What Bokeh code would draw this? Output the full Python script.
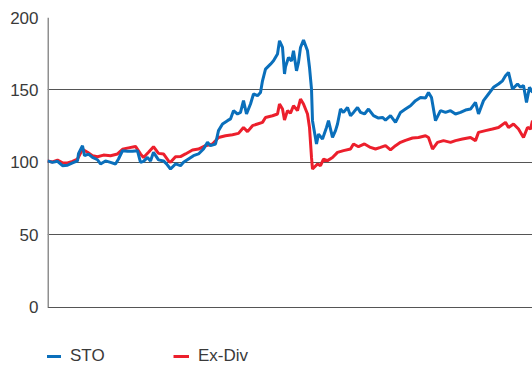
from bokeh.plotting import figure
from bokeh.models import Range1d, Legend, LegendItem, FixedTicker
from bokeh.embed import file_html
from bokeh.resources import INLINE

# trading-day index and indexed values (start = 100)
sto_t = [0, 5, 10, 15, 20, 25, 30, 31, 35, 37, 41, 45, 50, 53, 58, 63, 68, 71, 75, 80,
         85, 90, 93, 96, 100, 103, 106, 111, 116, 119, 123, 128, 133, 136, 141, 146, 151,
         156, 160, 163, 168, 171, 175, 180, 183, 186, 190, 193, 196, 199, 203, 206, 210,
         213, 215, 218, 223, 226, 230, 232, 235, 237, 238, 241, 244, 246, 249, 251, 253,
         256, 260, 262, 264, 265, 269, 271, 275, 279, 281, 285, 288, 290, 293, 296, 300,
         303, 306, 310, 313, 317, 321, 326, 331, 335, 338, 343, 348, 353, 358, 363, 368,
         373, 378, 381, 384, 388, 393, 398, 403, 408, 413, 418, 423, 428, 431, 436, 441,
         446, 451, 455, 458, 461, 465, 470, 473, 476, 479, 482, 485]
sto_v = [101, 100, 100.7, 97.7, 98, 99.6, 101, 106, 111.5, 104.6, 105.7, 103.4, 101.8,
         98.9, 101, 100, 98.9, 102.3, 108, 107.6, 107.6, 108, 100, 100.7, 103.4, 101,
         106.9, 101.7, 101, 99, 95.4, 98.9, 97.7, 100, 102.3, 104.6, 105.8, 109.2, 113.8,
         111.5, 112.7, 121.9, 126.5, 128.8, 130, 135.7, 133.4, 134.5, 142.6, 133.4, 140.3,
         147.2, 146, 148.3, 156.3, 164.4, 167.8, 170.1, 174.8, 183.9, 179.3, 161, 166,
         172.4, 170, 177, 163.2, 169, 179.3, 184.4, 177, 165.5, 150.6, 128.8, 112.7, 119.5,
         116.1, 124.1, 128.8, 117.2, 121.9, 126.5, 136.8, 134.5, 137.9, 132.2, 134.5, 137.9,
         134.5, 133.4, 136.8, 132.2, 130.6, 131, 129.2, 132.2, 127.6, 134.5, 136.8, 139.1,
         142.6, 144.8, 144.4, 148.3, 144.8, 128.8, 135.7, 134.5, 135.7, 133.4, 134.5, 136.1,
         136.8, 141.4, 133.4, 142.6, 147.2, 151.8, 154.1, 156.3, 159.8, 162.1, 150.6, 154.1,
         151.8, 153, 141.4, 151.8, 148.3, 159.8]

exdiv_t = [0, 5, 10, 15, 20, 25, 30, 35, 40, 45, 50, 56, 63, 70, 75, 81, 88, 93, 96, 101,
           106, 111, 116, 121, 123, 128, 133, 138, 145, 151, 158, 165, 171, 178, 185, 191,
           196, 200, 205, 210, 215, 218, 225, 230, 232, 235, 237, 240, 243, 246, 250, 253,
           256, 260, 262, 264, 265, 270, 273, 276, 280, 285, 290, 296, 303, 306, 311, 317,
           323, 328, 333, 338, 343, 348, 353, 358, 365, 371, 378, 381, 385, 390, 396, 403,
           408, 415, 423, 428, 431, 438, 445, 451, 458, 461, 466, 471, 476, 480, 483, 485]
exdiv_v = [101, 100.3, 101.5, 99.6, 99.6, 100.7, 102.3, 109, 107, 104.6, 103.9, 105, 104.6,
           105.8, 109, 110, 111, 105.8, 103.4, 107, 110.8, 106.2, 105.8, 101, 100, 103.9,
           104, 105.8, 108.5, 109.2, 111.5, 112.7, 117.2, 118.4, 119.1, 120, 124.1, 121.2,
           125.3, 126.5, 127.6, 131, 132.2, 133.4, 140.3, 136.8, 129.2, 135.7, 134, 139.1,
           135.7, 143.7, 140.3, 133.4, 124.1, 103.4, 95.4, 98.9, 97.7, 102.3, 101.2, 103.4,
           106.9, 108.1, 109.2, 112.7, 110.8, 112.7, 110.3, 109.2, 110.3, 111.5, 108.6, 111.5,
           113.8, 115.2, 116.8, 117.2, 118.4, 117.2, 109.2, 113.8, 115, 113.8, 115, 116.1,
           117.2, 115, 120.7, 121.9, 123, 124.1, 127.6, 124.1, 126.5, 123, 117.2, 124.1, 123,
           128.8]

y_ticks = [0, 50, 100, 150, 200]
series_names = ["STO", "Ex-Div"]

FONT = "Liberation Sans"
BLUE = "#0a6fbb"
RED = "#ec1f2c"

p = figure(frame_width=485, frame_height=352, output_backend="svg", toolbar_location=None,
           x_range=Range1d(0, 485), y_range=Range1d(-43, 200),
           min_border_left=47, min_border_right=0, min_border_top=17,
           min_border_bottom=0)
p.outline_line_color = None
p.background_fill_color = "white"
p.border_fill_color = "white"

p.xaxis.visible = False
p.xgrid.visible = False

p.yaxis.ticker = FixedTicker(ticks=y_ticks)
p.yaxis.axis_line_color = None
p.yaxis.major_tick_line_color = None
p.yaxis.minor_tick_line_color = None
p.yaxis.major_tick_out = 0
p.yaxis.major_tick_in = 0
p.yaxis.major_label_standoff = 9
p.yaxis.major_label_text_font = FONT
p.yaxis.major_label_text_font_size = "17px"
p.yaxis.major_label_text_color = "#3a3a3a"

p.ygrid.ticker = FixedTicker(ticks=y_ticks)
p.ygrid.grid_line_color = "#555555"
p.ygrid.grid_line_width = 1

# left axis line, from 0 to 200
p.segment(x0=[0], y0=[y_ticks[0]], x1=[0], y1=[y_ticks[-1]],
          line_color="#8f8f8f", line_width=3)

r_red = p.line(exdiv_t, exdiv_v, line_color=RED, line_width=3)
r_blue = p.line(sto_t, sto_v, line_color=BLUE, line_width=3)

legend = Legend(items=[LegendItem(label=series_names[0], renderers=[r_blue]),
                       LegendItem(label=series_names[1], renderers=[r_red])],
                orientation="horizontal", location=(-2, 3),
                glyph_width=16, glyph_height=20, label_standoff=9, label_width=103,
                spacing=0, padding=0, margin=0, border_line_color=None,
                background_fill_alpha=0,
                label_text_font=FONT, label_text_font_size="17px",
                label_text_color="#3a3a3a")
p.add_layout(legend, "center")

open("out.html", "w").write(file_html(p, INLINE))
